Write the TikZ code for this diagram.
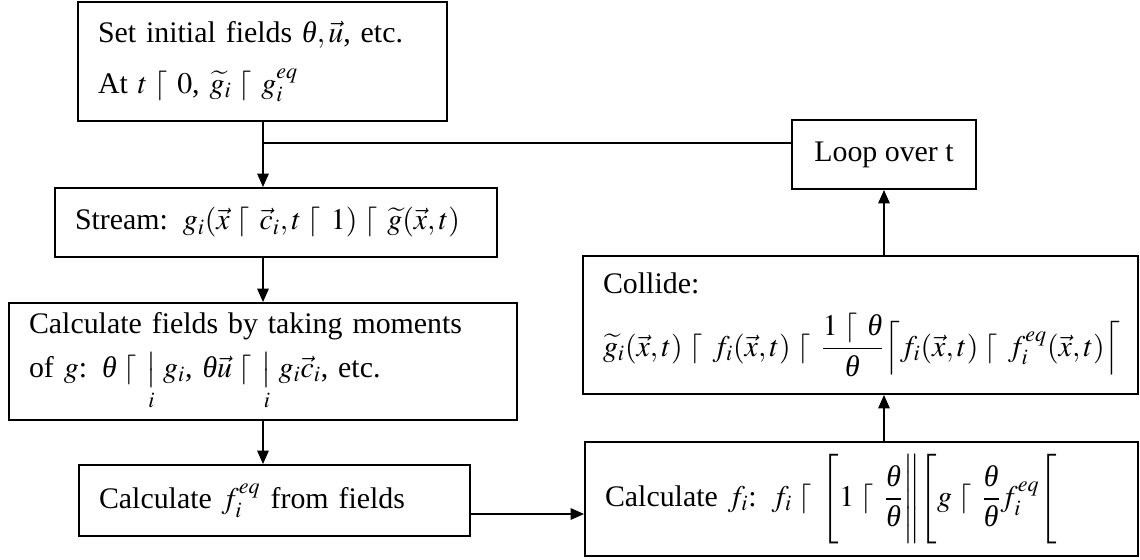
\documentclass[tikz,border=0pt]{standalone}
\usepackage{mathptmx}
\usepackage{amsmath}
\usepackage{fontspec}
\setmainfont{Liberation Serif}
\usetikzlibrary{arrows.meta}

\newcommand{\eqgl}{\mathrel{\lceil\,}}
\newcommand{\sumgl}{\mathop{\big|}\limits_{i}\,}
\newcommand{\thet}{\text{\itshape θ}}

\begin{document}
\begin{tikzpicture}[x=0.02cm,y=-0.02cm,
    flowbox/.style={draw,line width=1.1pt,rectangle,align=left,
                    inner xsep=0.4cm,inner ysep=0pt,
                    font=\fontsize{17}{21}\selectfont},
    flowarr/.style={line width=0.9pt,-{Triangle[length=0.27cm,width=0.23cm]}}]
  \useasboundingbox (0,0) rectangle (1140,560);

  \node[flowbox,text width=6.58cm,minimum height=2.38cm] (init) at (262.5,61.5)
    {Set initial fields $\thet, \vec{u}$, etc.\\[8pt]
     At $t \eqgl 0$, $\widetilde{g}_i \eqgl g_i^{eq}$};
  \node[flowbox,align=center,inner xsep=0pt,minimum width=3.68cm,
        minimum height=1.38cm] (loop) at (884,154.5) {Loop over t};
  \node[flowbox,text width=8.04cm,minimum height=1.38cm] (stream) at (276,222.5)
    {Stream: $g_i(\vec{x}\eqgl\vec{c}_i, t\eqgl 1)\eqgl\widetilde{g}(\vec{x},t)$};
  \node[flowbox,text width=9.36cm,minimum height=2.34cm] (moments) at (263,361.5)
    {Calculate fields by taking moments\\[4pt]
     of $g$: $\displaystyle\thet\eqgl\sumgl g_i$, $\displaystyle\thet\vec{u}\eqgl\sumgl g_i\vec{c}_i$, etc.};
  \node[flowbox,text width=7.02cm,minimum height=1.42cm] (feq) at (274.5,500.5)
    {Calculate $f_i^{eq}$ from fields};
  \node[flowbox,text width=10.26cm,minimum height=2.28cm] (fcalc) at (861.5,499)
    {Calculate $f_i$: $\displaystyle f_i\eqgl\Bigg[1\eqgl\frac{\thet}{\thet}\Bigg\|\Bigg[g\eqgl\frac{\thet}{\thet}f_i^{eq}\Bigg[$};
  \node[flowbox,text width=10.3cm,minimum height=2.76cm] (collide) at (860.5,325)
    {Collide:\\[10pt]
     \mbox{$\displaystyle\widetilde{g}_i(\vec{x},t)\eqgl f_i(\vec{x},t)\eqgl\frac{1\eqgl\thet}{\thet}\Big\lceil f_i(\vec{x},t)\eqgl f_i^{eq}(\vec{x},t)\Big\lceil$}};

  \coordinate (join) at (263,143);
  \draw[line width=0.9pt] (join) -- (join -| loop.west);
  \draw[flowarr] (join |- init.south) -- (join |- stream.north);
  \draw[flowarr] (join |- stream.south) -- (join |- moments.north);
  \draw[flowarr] (join |- moments.south) -- (join |- feq.north);
  \coordinate (fout) at ([yshift=-0.27cm]feq.east);
  \draw[flowarr] (fout) -- (fout -| fcalc.west);
  \draw[flowarr] (loop.south |- fcalc.north) -- (loop.south |- collide.south);
  \draw[flowarr] (loop.south |- collide.north) -- (loop.south);
\end{tikzpicture}
\end{document}
